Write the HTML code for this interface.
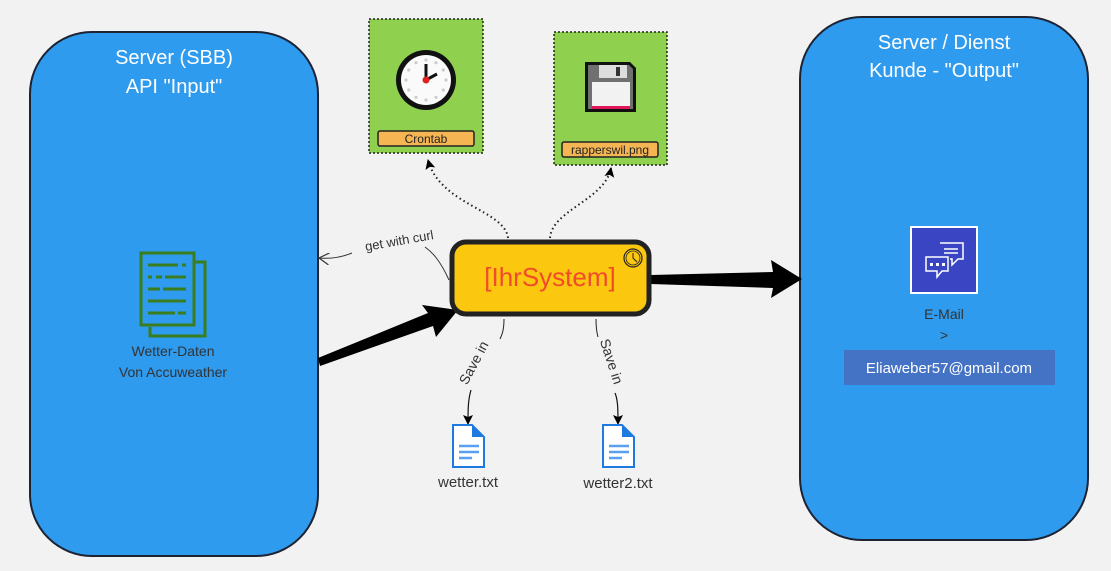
<!DOCTYPE html>
<html><head><meta charset="utf-8"><style>
html,body{margin:0;padding:0;background:#f2f2f2;}
svg{display:block;font-family:"Liberation Sans",sans-serif;}
</style></head><body>
<svg width="1111" height="571" viewBox="0 0 1111 571" xmlns="http://www.w3.org/2000/svg">
<defs>
<marker id="ah" markerWidth="10" markerHeight="12" refX="9" refY="5" orient="auto" markerUnits="userSpaceOnUse"><path d="M0,0 L10,5 L0,10 L2,5 z" fill="#000"/></marker>
<marker id="ao" markerWidth="12" markerHeight="12" refX="1" refY="6" orient="auto" markerUnits="userSpaceOnUse"><path d="M11,0 L1,6 L11,12" fill="none" stroke="#333" stroke-width="1.2"/></marker>
</defs>
<rect width="1111" height="571" fill="#f2f2f2"/>
<!-- servers -->
<rect x="30" y="32" width="288" height="524" rx="62" fill="#2e9bef" stroke="#1d2333" stroke-width="2"/>
<text x="174" y="64" fill="#fff" font-size="20" text-anchor="middle">Server (SBB)</text>
<text x="174" y="93" fill="#fff" font-size="20" text-anchor="middle">API "Input"</text>
<rect x="800" y="17" width="288" height="523" rx="62" fill="#2e9bef" stroke="#1d2333" stroke-width="2"/>
<text x="944" y="49" fill="#fff" font-size="20" text-anchor="middle">Server / Dienst</text>
<text x="944" y="77" fill="#fff" font-size="20" text-anchor="middle">Kunde - "Output"</text>
<!-- doc icon -->
<g stroke="#3a7d1f" stroke-width="3" fill="none">
<rect x="141" y="253" width="53" height="72"/>
<path d="M195,262 H205 V336 H150 V327"/>
<path d="M148,265 H178 M182,265 H186 M148,277 H152 M156,277 H162 M165,277 H186 M148,289 H160 M163,289 H186 M148,301 H186 M148,313 H175 M178,313 H186"/>
</g>
<text x="173" y="356" fill="#333" font-size="14" text-anchor="middle">Wetter-Daten</text>
<text x="173" y="377" fill="#333" font-size="14" text-anchor="middle">Von Accuweather</text>
<!-- crontab -->
<rect x="369" y="19" width="114" height="134" fill="#8fd14f" stroke="#222" stroke-width="1.5" stroke-dasharray="2,2"/>
<circle cx="426" cy="80" r="30" fill="#111"/>
<circle cx="426" cy="80" r="25" fill="#fafafa"/>
<g fill="#ccc">
<circle cx="426" cy="60" r="1.6"/><circle cx="426" cy="100" r="1.6"/><circle cx="406" cy="80" r="1.6"/><circle cx="446" cy="80" r="1.6"/>
<circle cx="436" cy="62.7" r="1.6"/><circle cx="443.3" cy="70" r="1.6"/><circle cx="443.3" cy="90" r="1.6"/><circle cx="436" cy="97.3" r="1.6"/>
<circle cx="416" cy="97.3" r="1.6"/><circle cx="408.7" cy="90" r="1.6"/><circle cx="408.7" cy="70" r="1.6"/><circle cx="416" cy="62.7" r="1.6"/>
</g>
<line x1="426" y1="80" x2="426" y2="64" stroke="#111" stroke-width="3"/>
<line x1="426" y1="80" x2="437" y2="74" stroke="#111" stroke-width="3"/>
<circle cx="426" cy="80" r="3.5" fill="#e02020"/>
<rect x="378" y="131" width="96" height="15" rx="2" fill="#f5b553" stroke="#222" stroke-width="1.5"/>
<text x="426" y="143" font-size="12" fill="#222" text-anchor="middle">Crontab</text>
<!-- floppy -->
<rect x="554" y="32" width="113" height="133" fill="#8fd14f" stroke="#222" stroke-width="1.5" stroke-dasharray="2,2"/>
<path d="M585,62 H630 L636,68 V112 H585 Z" fill="#111"/>
<path d="M588,65 H629 L633,69 V109 H588 Z" fill="#707070"/>
<rect x="599" y="65" width="28" height="13" fill="#ddd"/>
<rect x="616" y="67" width="4" height="9" fill="#333"/>
<rect x="592" y="82" width="38" height="27" fill="#f2f2f2"/>
<rect x="592" y="106" width="38" height="3" fill="#e0185a"/>
<rect x="562" y="142" width="96" height="15" rx="2" fill="#f5b553" stroke="#222" stroke-width="1.5"/>
<text x="610" y="154" font-size="12" fill="#222" text-anchor="middle">rapperswil.png</text>
<!-- dotted connectors -->
<path d="M508,238 C505,210 440,205 428,160" fill="none" stroke="#222" stroke-width="2" stroke-dasharray="1.5,3" marker-end="url(#ah)"/>
<path d="M550,238 C552,210 605,200 611,168" fill="none" stroke="#222" stroke-width="2" stroke-dasharray="1.5,3" marker-end="url(#ah)"/>
<!-- get with curl -->
<path d="M449,280 C440,260 432,252 425,247" fill="none" stroke="#333" stroke-width="1"/>
<path d="M319,258 C330,259 340,258 352,253" fill="none" stroke="#333" stroke-width="1" marker-start="url(#ao)"/>
<text x="400" y="245" font-size="13" fill="#333" text-anchor="middle" transform="rotate(-10 400 245)">get with curl</text>
<!-- big arrows -->
<path d="M318,358 L428,313 L422,305 L458,310 L436,337 L433,326 L320,366 Z" fill="#000"/>
<path d="M651,275 L773,272 L771,260 L802,279 L771,298 L773,288 L651,284 Z" fill="#000"/>
<!-- IhrSystem -->
<rect x="452" y="242" width="197" height="72" rx="14" fill="#fbc70f" stroke="#222" stroke-width="5"/>
<text x="550" y="286" font-size="26" fill="#f04b2b" text-anchor="middle">[IhrSystem]</text>
<circle cx="633" cy="258" r="9" fill="none" stroke="#222" stroke-width="1.2"/>
<circle cx="633" cy="258" r="7" fill="none" stroke="#222" stroke-width="0.8"/>
<path d="M633,253 V258 L637,262" fill="none" stroke="#222" stroke-width="1"/>
<!-- save in -->
<path d="M504,319 C504,330 502,335 500,339" fill="none" stroke="#222" stroke-width="1"/>
<path d="M471,390 C468,400 468,410 468,424" fill="none" stroke="#111" stroke-width="1.2" marker-end="url(#ah)"/>
<text x="478" y="365" font-size="14" fill="#333" text-anchor="middle" transform="rotate(-62 478 365)">Save in</text>
<path d="M596,319 C596,330 597,333 598,337" fill="none" stroke="#222" stroke-width="1"/>
<path d="M615,393 C618,400 618,410 618,424" fill="none" stroke="#111" stroke-width="1.2" marker-end="url(#ah)"/>
<text x="607" y="363" font-size="14" fill="#333" text-anchor="middle" transform="rotate(72 607 363)">Save in</text>
<!-- files -->
<g>
<path d="M453,425 H472 L484,437 V467 H453 Z" fill="#fff" stroke="#1e7ae0" stroke-width="2"/>
<path d="M472,425 L484,437 H472 Z" fill="#1e7ae0"/>
<path d="M459,446 H479 M459,452 H479 M459,458 H472" stroke="#5aa0f0" stroke-width="2.5"/>
<text x="468" y="487" font-size="15" fill="#333" text-anchor="middle">wetter.txt</text>
</g>
<g>
<path d="M603,425 H622 L634,437 V467 H603 Z" fill="#fff" stroke="#1e7ae0" stroke-width="2"/>
<path d="M622,425 L634,437 H622 Z" fill="#1e7ae0"/>
<path d="M609,446 H629 M609,452 H629 M609,458 H622" stroke="#5aa0f0" stroke-width="2.5"/>
<text x="618" y="488" font-size="15" fill="#333" text-anchor="middle">wetter2.txt</text>
</g>
<!-- email -->
<rect x="911" y="227" width="66" height="66" fill="#3a45c4" stroke="#fff" stroke-width="2"/>
<g fill="none" stroke="#fff" stroke-width="1.5">
<path d="M940,243 H963 V259 H958 L952,265 V259 H950"/>
<path d="M944,249 H958 M944,253 H958"/>
<path d="M926,257 H948 V271 H942 L937,277 V271 H926 Z"/>
</g>
<g fill="#fff"><rect x="930" y="263" width="3" height="3"/><rect x="936" y="263" width="3" height="3"/><rect x="942" y="263" width="3" height="3"/></g>
<text x="944" y="319" font-size="14" fill="#333" text-anchor="middle">E-Mail</text>
<text x="944" y="340" font-size="14" fill="#333" text-anchor="middle">&gt;</text>
<rect x="844" y="350" width="211" height="35" fill="#4472c4"/>
<text x="949" y="373" font-size="15" fill="#fff" text-anchor="middle">Eliaweber57@gmail.com</text>
</svg>
</body></html>
